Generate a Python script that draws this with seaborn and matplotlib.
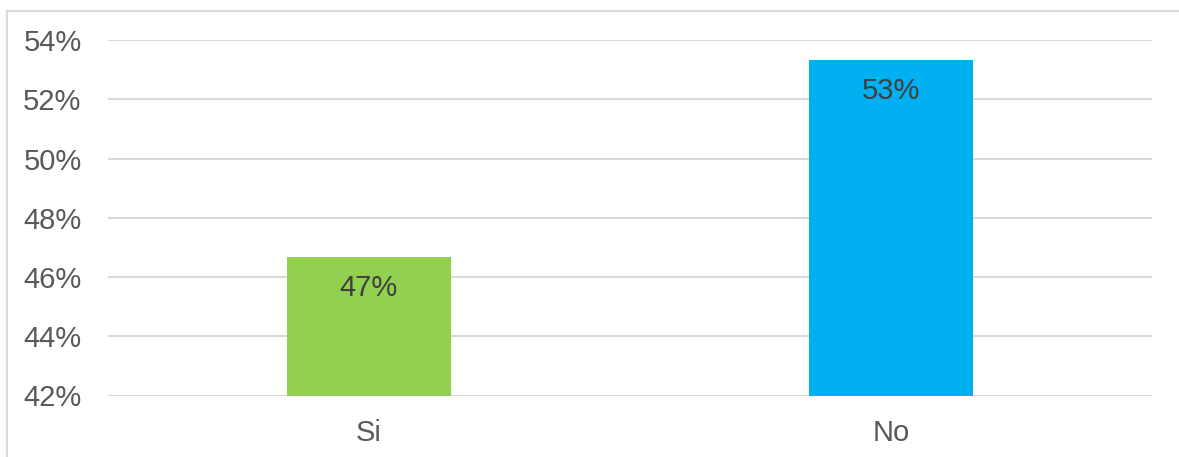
import matplotlib
matplotlib.use("Agg")
import matplotlib.pyplot as plt
from matplotlib.lines import Line2D
from matplotlib.ticker import PercentFormatter, MultipleLocator
import seaborn as sns
import pandas as pd

# Survey answers and their share of respondents (%)
categories = ["Si", "No"]
shares = [46.67, 53.33]
bar_colors = ["#92D050", "#00B0F0"]

sns.set_theme(style="white")
plt.rcParams["font.family"] = ["Liberation Sans", "DejaVu Sans"]

df = pd.DataFrame({"respuesta": categories, "porcentaje": shares})

fig = plt.figure(figsize=(11.79, 4.57), dpi=100)
ax = fig.add_axes([108 / 1179, 61.5 / 457, (1152 - 108) / 1179, (417 - 61.5) / 457])

sns.barplot(data=df, x="respuesta", y="porcentaje", hue="respuesta",
            palette=bar_colors, width=0.314, legend=False, ax=ax,
            saturation=1, linewidth=0, zorder=3)

ax.set_ylim(42, 54)
ax.yaxis.set_major_locator(MultipleLocator(2))
ax.yaxis.set_major_formatter(PercentFormatter(decimals=0))
ax.grid(axis="y", color="#D9D9D9", linewidth=1.5, zorder=0)
ax.set_axisbelow(True)
for side in ["top", "right", "left", "bottom"]:
    ax.spines[side].set_visible(False)
ax.tick_params(axis="y", length=0, pad=19, labelsize=21, labelcolor="#595959")
ax.tick_params(axis="x", length=0, pad=17, labelsize=21, labelcolor="#595959")
ax.set_xlabel("")
ax.set_ylabel("")

# Value labels just inside the top of each bar
for patch, val in zip(ax.patches, shares):
    ax.annotate(f"{val:.0f}%",
                xy=(patch.get_x() + patch.get_width() / 2, patch.get_height()),
                xytext=(0, -31), textcoords="offset pixels",
                ha="center", va="center", fontsize=21, color="#404040", zorder=4)

# Light outer frame of the chart area (left and top edges)
x0, y0 = 7 / 1179, (457 - 11) / 457
fig.add_artist(Line2D([x0, x0], [0, y0], transform=fig.transFigure,
                      color="#D9D9D9", linewidth=1.5))
fig.add_artist(Line2D([x0, 1], [y0, y0], transform=fig.transFigure,
                      color="#D9D9D9", linewidth=1.5))

fig.savefig("out.png", dpi=100)
